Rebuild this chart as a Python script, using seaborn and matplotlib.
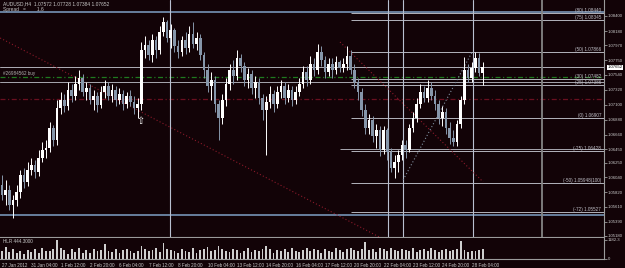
import numpy as np
import pandas as pd
import matplotlib
matplotlib.use("Agg")
import matplotlib.pyplot as plt
import matplotlib.transforms as mtransforms
import seaborn as sns

# ---------------- data ----------------
chart_title = "AUDUSD,H4  1.07572 1.07728 1.07384 1.07652"
spread_text = "Spread   =        1.6"
volume_title = "HLR 444.3000"
order_label = "#26984562 buy"

opens = [1.05927, 1.05780, 1.05853, 1.05634, 1.05707, 1.05824, 1.06073, 1.05971, 1.06146, 1.06219,
         1.06117, 1.06322, 1.06439, 1.06468, 1.06761, 1.06585, 1.07053, 1.07170, 1.07083, 1.07317,
         1.07229, 1.07405, 1.07492, 1.07288, 1.07346, 1.07170, 1.07229, 1.07097, 1.07288, 1.07375,
         1.07229, 1.07317, 1.07170, 1.07258, 1.07112, 1.07229, 1.07141, 1.07053, 1.07112, 1.07902,
         1.07975, 1.07829, 1.08049, 1.07902, 1.08166, 1.08312, 1.08078, 1.08195, 1.07961, 1.07873,
         1.08049, 1.07932, 1.08136, 1.07990, 1.08078, 1.07829, 1.07610, 1.07375, 1.07463, 1.07112,
         1.06907, 1.07170, 1.07405, 1.07610, 1.07522, 1.07785, 1.07668, 1.07463, 1.07551, 1.07346,
         1.07434, 1.07200, 1.07024, 1.07141, 1.07258, 1.07112, 1.07288, 1.07375, 1.07200, 1.07317,
         1.07170, 1.07288, 1.07405, 1.07580, 1.07463, 1.07697, 1.07610, 1.07873, 1.07756, 1.07580,
         1.07697, 1.07610, 1.07727, 1.07639, 1.07697, 1.07814, 1.07610, 1.07434, 1.07288, 1.07024,
         1.06761, 1.06878, 1.06644, 1.06731, 1.06439, 1.06731, 1.06409, 1.06175, 1.06263, 1.06365,
         1.06512, 1.06439, 1.06761, 1.06907, 1.07112, 1.07288, 1.07200, 1.07346, 1.07229, 1.07112,
         1.06907, 1.06995, 1.06761, 1.06614, 1.06556, 1.06819, 1.07170, 1.07610, 1.07492, 1.07639,
         1.07785, 1.07572]
highs = [1.06073, 1.06000, 1.05927, 1.05780, 1.05927, 1.06146, 1.06175, 1.06263, 1.06322, 1.06292,
         1.06439, 1.06556, 1.06585, 1.06848, 1.06804, 1.07170, 1.07288, 1.07258, 1.07434, 1.07405,
         1.07522, 1.07610, 1.07551, 1.07434, 1.07405, 1.07317, 1.07288, 1.07375, 1.07463, 1.07434,
         1.07405, 1.07375, 1.07346, 1.07317, 1.07288, 1.07317, 1.07229, 1.07200, 1.08019, 1.08107,
         1.08049, 1.08136, 1.08107, 1.08253, 1.08385, 1.08341, 1.08283, 1.08224, 1.08049, 1.08107,
         1.08166, 1.08253, 1.08312, 1.08166, 1.08136, 1.07873, 1.07697, 1.07580, 1.07522, 1.07170,
         1.07258, 1.07492, 1.07697, 1.07756, 1.07902, 1.07844, 1.07727, 1.07639, 1.07610, 1.07522,
         1.07492, 1.07258, 1.07229, 1.07375, 1.07317, 1.07375, 1.07463, 1.07434, 1.07405, 1.07375,
         1.07375, 1.07492, 1.07668, 1.07668, 1.07814, 1.07785, 1.07990, 1.07961, 1.07814, 1.07785,
         1.07785, 1.07814, 1.07756, 1.07785, 1.07961, 1.07902, 1.07697, 1.07492, 1.07346, 1.07112,
         1.06965, 1.06936, 1.06819, 1.06790, 1.06790, 1.06761, 1.06468, 1.06365, 1.06439, 1.06585,
         1.06585, 1.06819, 1.06995, 1.07200, 1.07405, 1.07375, 1.07463, 1.07434, 1.07317, 1.07170,
         1.07083, 1.07053, 1.06848, 1.06731, 1.06878, 1.07229, 1.07800, 1.07697, 1.07727, 1.07873,
         1.07858, 1.07728]
lows = [1.05707, 1.05634, 1.05560, 1.05443, 1.05619, 1.05736, 1.05883, 1.05912, 1.06073, 1.06029,
        1.06058, 1.06263, 1.06322, 1.06409, 1.06497, 1.06512, 1.06965, 1.06995, 1.07024, 1.07141,
        1.07170, 1.07317, 1.07229, 1.07170, 1.07112, 1.07024, 1.06995, 1.07053, 1.07200, 1.07170,
        1.07141, 1.07083, 1.07112, 1.07024, 1.07053, 1.07083, 1.06965, 1.06907, 1.07024, 1.07785,
        1.07756, 1.07727, 1.07785, 1.07844, 1.08107, 1.08019, 1.07932, 1.07873, 1.07785, 1.07814,
        1.07844, 1.07873, 1.07932, 1.07902, 1.07756, 1.07492, 1.07288, 1.07170, 1.06995, 1.06585,
        1.06819, 1.07083, 1.07317, 1.07405, 1.07463, 1.07580, 1.07375, 1.07346, 1.07258, 1.07200,
        1.07112, 1.06878, 1.06365, 1.07053, 1.06995, 1.07053, 1.07200, 1.07112, 1.07141, 1.07083,
        1.07112, 1.07229, 1.07346, 1.07375, 1.07405, 1.07522, 1.07551, 1.07668, 1.07492, 1.07522,
        1.07492, 1.07551, 1.07580, 1.07580, 1.07610, 1.07551, 1.07346, 1.07170, 1.06936, 1.06673,
        1.06673, 1.06556, 1.06468, 1.06351, 1.06380, 1.06292, 1.06117, 1.06029, 1.06117, 1.06292,
        1.06322, 1.06409, 1.06702, 1.06848, 1.07053, 1.07141, 1.07141, 1.07170, 1.07024, 1.06819,
        1.06790, 1.06673, 1.06527, 1.06497, 1.06497, 1.06761, 1.07112, 1.07434, 1.07434, 1.07580,
        1.07522, 1.07384]
closes = [1.05780, 1.05853, 1.05634, 1.05707, 1.05824, 1.06073, 1.05971, 1.06146, 1.06219, 1.06117,
          1.06322, 1.06439, 1.06468, 1.06761, 1.06585, 1.07053, 1.07170, 1.07083, 1.07317, 1.07229,
          1.07405, 1.07492, 1.07288, 1.07346, 1.07170, 1.07229, 1.07097, 1.07288, 1.07375, 1.07229,
          1.07317, 1.07170, 1.07258, 1.07112, 1.07229, 1.07141, 1.07053, 1.07112, 1.07902, 1.07975,
          1.07829, 1.08049, 1.07902, 1.08166, 1.08312, 1.08078, 1.08195, 1.07961, 1.07873, 1.08049,
          1.07932, 1.08136, 1.07990, 1.08078, 1.07829, 1.07610, 1.07375, 1.07463, 1.07112, 1.06907,
          1.07170, 1.07405, 1.07610, 1.07522, 1.07785, 1.07668, 1.07463, 1.07551, 1.07346, 1.07434,
          1.07200, 1.07024, 1.07141, 1.07258, 1.07112, 1.07288, 1.07375, 1.07200, 1.07317, 1.07170,
          1.07288, 1.07405, 1.07580, 1.07463, 1.07697, 1.07610, 1.07873, 1.07756, 1.07580, 1.07697,
          1.07610, 1.07727, 1.07639, 1.07697, 1.07814, 1.07610, 1.07434, 1.07288, 1.07024, 1.06761,
          1.06878, 1.06644, 1.06731, 1.06439, 1.06731, 1.06409, 1.06175, 1.06263, 1.06365, 1.06512,
          1.06439, 1.06761, 1.06907, 1.07112, 1.07288, 1.07200, 1.07346, 1.07229, 1.07112, 1.06907,
          1.06995, 1.06761, 1.06614, 1.06556, 1.06819, 1.07170, 1.07610, 1.07492, 1.07639, 1.07785,
          1.07572, 1.07652]
volumes = [520, 760, 430, 610, 350, 480, 300, 560, 410, 650,
           380, 700, 470, 520, 620, 1180, 690, 560, 320, 600,
           450, 680, 400, 540, 360, 620, 480, 580, 930, 520,
           430, 600, 350, 560, 610, 480, 400, 520, 780, 640,
           480, 560, 700, 420, 1010, 620, 540, 470, 380, 600,
           520, 450, 700, 380, 560, 640, 720, 480, 560, 800,
           600, 520, 410, 640, 560, 350, 480, 660, 420, 580,
           500, 640, 820, 600, 380, 560, 470, 620, 450, 700,
           520, 410, 580, 660, 480, 620, 560, 400, 640, 520,
           460, 700, 560, 420, 600, 680, 540, 480, 620, 1040,
           560, 640, 420, 700, 600, 520, 680, 560, 480, 620,
           540, 500, 660, 420, 580, 600, 480, 660, 560, 420,
           580, 640, 500, 560, 600, 1130, 560, 420, 480, 520,
           580, 600]

date_labels = ["27 Jan 2012", "31 Jan 04:00", "1 Feb 12:00", "2 Feb 20:00", "6 Feb 04:00",
               "7 Feb 12:00", "8 Feb 20:00", "10 Feb 04:00", "13 Feb 12:00", "14 Feb 20:00",
               "16 Feb 04:00", "17 Feb 12:00", "20 Feb 20:00", "22 Feb 04:00", "23 Feb 12:00",
               "24 Feb 20:00", "28 Feb 04:00"]
date_label_bars = [0, 8, 16, 24, 32, 40, 48, 56, 64, 72, 80, 88, 96, 104, 112, 120, 128]

price_ticks = [1.08400, 1.08180, 1.07970, 1.07750, 1.07540, 1.07320, 1.07100, 1.06880,
               1.06660, 1.06450, 1.06250, 1.06040, 1.05820, 1.05610, 1.05390, 1.05180]
price_tick_labels = ["1.08400", "1.08180", "1.07970", "1.07750", "1.07540", "1.07320", "1.07100",
                     "1.06880", "1.06660", "1.06450", "1.06250", "1.06040", "1.05820", "1.05610",
                     "1.05390", "1.05180"]
bid_price = 1.07652
bid_label = "1.07652"

volume_ticks = [0, 1182.3]
volume_tick_labels = ["0", "1182.3"]

fib_prices = [1.08440, 1.08345, 1.07866, 1.07478, 1.07386, 1.06907, 1.06428, 1.05948, 1.05527]
fib_labels = ["(80) 1.08440", "(75) 1.08345", "(50) 1.07866", "(30) 1.07482", "(25) 1.07386",
              "(0) 1.06907", "(-25) 1.06428", "(-50) 1.05948(100)", "(-72) 1.05527"]
fib_start_bar = 95.1

hline_blue_prices = [1.08458, 1.05486]
hline_gray_prices = [1.07434]
hline_partial_price = 1.06453
hline_partial_start = 92.1
order_buy_price = 1.07507
order_sl_price = 1.07185

vline_bars = [45.8, 105.2, 109.3, 128.3]
vline_dark_bar = 147.1

trend_red1_bars = [-0.5, 108.5]
trend_red1_prices = [1.08078, 1.05003]
trend_red2_bars = [92.1, 131.1]
trend_red2_prices = [1.08019, 1.05971]
trend_gray_bars = [109.3, 128.1]
trend_gray_prices = [1.06000, 1.07873]

arrow_bar = 37.6
arrow_price = 1.06860

# ---------------- style ----------------
BG = "#120307"
TXT = "#c8c8c8"
BORDER = "#9a9a9a"
BULL = "#ffffff"
BEAR = "#8696aa"
FS = 3.3

sns.set_theme(style="dark")
plt.rcParams["font.family"] = ["Liberation Sans", "DejaVu Sans"]

W, H = 625, 268
fig = plt.figure(figsize=(W / 100, H / 100), dpi=100, facecolor=BG)
ax = fig.add_axes([0, 1 - 237 / H, 604 / W, 237 / H], facecolor=BG)
axv = fig.add_axes([0, 1 - 259 / H, 604 / W, 21 / H], facecolor=BG)

n = len(closes)
idx = np.arange(n)
o = np.array(opens); c = np.array(closes); hi = np.array(highs); lo = np.array(lows)
up = c >= o
body_col = np.where(up, BULL, BEAR)

xlim = (-0.545, -0.545 + 604 / 3.67)
ylim = (1.08634 - 237 * 0.0001464, 1.08634)

# lines behind candles
for p in hline_blue_prices:
    ax.axhline(p, color="#6f88a8", lw=1.3, zorder=1)
for p in hline_gray_prices:
    ax.axhline(p, color="#a8a8b0", lw=0.7, zorder=1)
ax.axhline(bid_price, color="#b0b0b8", lw=0.7, zorder=1)
ax.axhline(order_buy_price, color="#1f7a1f", lw=0.9, ls=(0, (4, 2, 1, 2)), zorder=1)
ax.axhline(order_sl_price, color="#6a1020", lw=0.9, ls=(0, (4, 2, 1, 2)), zorder=1)
ax.hlines(hline_partial_price, hline_partial_start, xlim[1], color="#a8a8b0", lw=0.7, zorder=1)
ax.hlines(fib_prices, fib_start_bar, xlim[1], color="#b4b4bc", lw=0.7, zorder=1)
for b in vline_bars:
    ax.axvline(b, color="#b8c0d0", lw=0.8, zorder=1)
ax.axvline(vline_dark_bar, color="#858585", lw=1.3, zorder=1)

ax.plot(trend_red1_bars, trend_red1_prices, color="#8b1a2a", lw=0.8, ls=(0, (1, 2)), zorder=1)
ax.plot(trend_red2_bars, trend_red2_prices, color="#8b1a2a", lw=0.8, ls=(0, (1, 2)), zorder=1)
ax.plot(trend_gray_bars, trend_gray_prices, color="#8090a0", lw=0.8, ls=(0, (1, 2)), zorder=1)

# candles
ax.vlines(idx, lo, hi, colors=body_col, lw=0.7, zorder=3)
heights = np.maximum(np.abs(c - o), 0.00004)
ax.bar(idx, heights, bottom=np.minimum(o, c), width=0.72, color=body_col, linewidth=0, zorder=4)

ax.text(arrow_bar, arrow_price, "\u21e7", color="white", fontsize=7, ha="center", va="center",
        family="DejaVu Sans", zorder=5)

ax.set_xlim(*xlim)
ax.set_ylim(*ylim)

# fib labels
for p, lab in zip(fib_prices, fib_labels):
    ax.text(xlim[1] - 0.8, p, lab, color="#c0c0c8", fontsize=FS, ha="right", va="bottom", zorder=6)

tr = mtransforms.blended_transform_factory(ax.transAxes, ax.transData)
ax.text(3 / 604, order_buy_price + 0.00012, order_label, transform=tr, color="#b0b0b0",
        fontsize=FS, ha="left", va="bottom")

# right price axis
ax.yaxis.tick_right()
ax.set_yticks(price_ticks)
ax.set_yticklabels(price_tick_labels)
ax.tick_params(axis="y", colors=BORDER, labelcolor=TXT, labelsize=3.1, length=2, width=0.6, pad=0.8)
ax.set_xticks([])
ax.text(1.0 + 3.5 / 604, bid_price, bid_label, transform=tr, color="black", fontsize=3.1,
        ha="left", va="center", zorder=7,
        bbox=dict(boxstyle="square,pad=0.12", facecolor="white", edgecolor="none"))
for s in ["left", "top"]:
    ax.spines[s].set_visible(False)
for s in ["right", "bottom"]:
    ax.spines[s].set_color(BORDER)
    ax.spines[s].set_linewidth(0.8)
ax.grid(False)

# volume panel (seaborn)
vol_df = pd.DataFrame({"bar": idx, "volume": volumes})
sns.barplot(data=vol_df, x="bar", y="volume", native_scale=True, width=0.5, color="#cfcfcf",
            saturation=1, errorbar=None, linewidth=0, ax=axv)
axv.set_xlim(*xlim)
axv.set_ylim(0, 1300)
axv.set_xlabel(""); axv.set_ylabel("")
axv.yaxis.tick_right()
axv.set_yticks(volume_ticks)
axv.set_yticklabels(volume_tick_labels)
axv.set_xticks(date_label_bars)
axv.set_xticklabels(date_labels, ha="left")
axv.tick_params(axis="y", colors=BORDER, labelcolor=TXT, labelsize=3.1, length=2, width=0.6, pad=0.8)
axv.tick_params(axis="x", colors=BORDER, labelcolor=TXT, labelsize=FS, length=1.5, width=0.6, pad=1.2)
for s in ["left", "top"]:
    axv.spines[s].set_visible(False)
for s in ["right", "bottom"]:
    axv.spines[s].set_color(BORDER)
    axv.spines[s].set_linewidth(0.8)
axv.grid(False)
axv.text(3 / 604, 0.93, volume_title, transform=axv.transAxes, color=TXT, fontsize=FS,
         ha="left", va="top")

# header text
fig.text(3 / W, 1 - 3.5 / H, chart_title, color=TXT, fontsize=3.5, ha="left", va="center")
fig.text(3 / W, 1 - 9 / H, spread_text, color=TXT, fontsize=3.5, ha="left", va="center")

fig.savefig("out.png", dpi=100, facecolor=BG)
